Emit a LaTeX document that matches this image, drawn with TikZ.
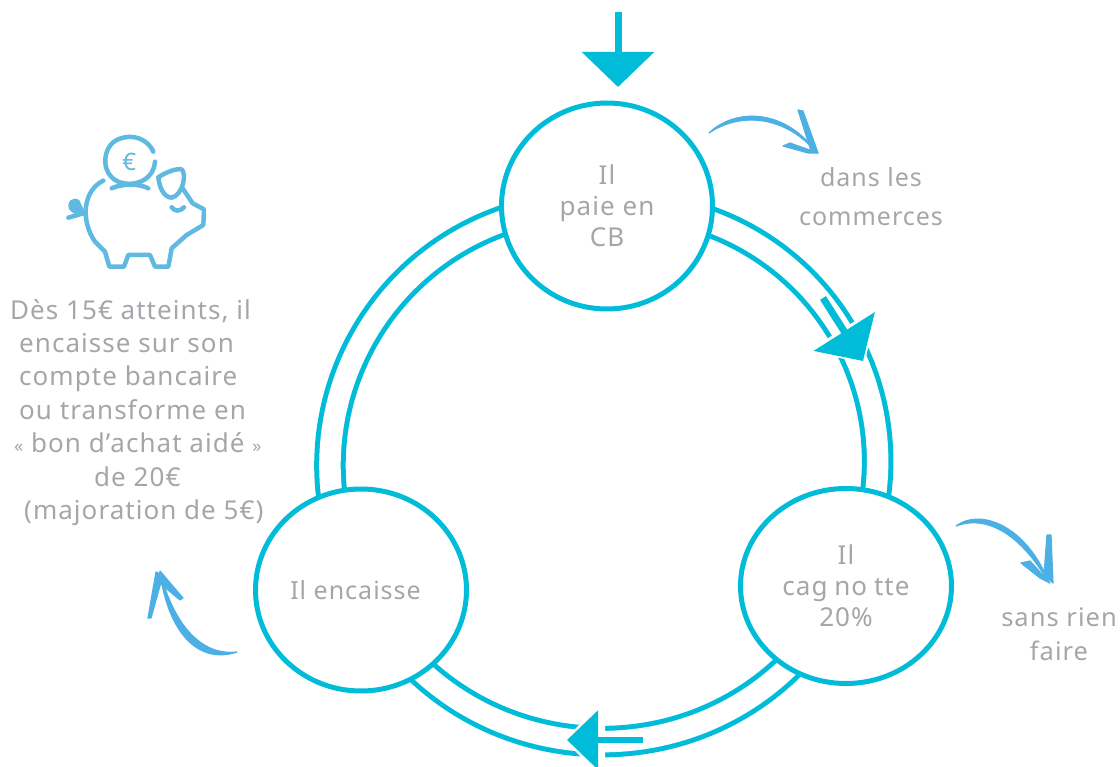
\documentclass[tikz,border=0pt]{standalone}
\usepackage{fontspec}
\setmainfont[LetterSpace=4]{Noto Sans}
\usetikzlibrary{arrows.meta,backgrounds,shapes.geometric}
\definecolor{turquoise}{HTML}{00BCD8}
\definecolor{gristexte}{HTML}{A4A6AA}
\definecolor{bleucochon}{HTML}{5FB9E1}
\definecolor{bleucroquis}{HTML}{4DB0E4}
\tikzset{
  etape/.style={ellipse,draw=turquoise,line width=5pt,fill=white,text=gristexte,align=center,inner sep=0pt,outer sep=0pt,font=\fontsize{26}{31}\selectfont},
  texte/.style={text=gristexte,align=center,inner sep=0pt,font=\fontsize{25.5}{34}\selectfont},
  anneau/.style={draw=turquoise,line width=5pt,double=white,double distance=21.5pt},
  fleche/.style={draw=turquoise,line width=7pt,-{Triangle[width=71pt,length=35pt,fill=turquoise]}},
  croquis/.style={fill=bleucroquis,draw=bleucroquis,line width=1.2pt,line cap=round,line join=round},
  cochon/.style={draw=bleucochon,line width=4.5pt,line cap=round,line join=round}
}
\begin{document}
\begin{tikzpicture}[x=1pt,y=-1pt]
  \useasboundingbox (0,0) rectangle (1120,767);

  \begin{scope}[every node/.style={etape}]
    \node[minimum width=211pt,minimum height=206pt] (paie) at (607,206) {Il\\paie en\\CB};
    \node[minimum width=211pt,minimum height=195pt] (cagnotte) at (846,586) {Il\\cag\hspace{-1pt} no\hspace{-1pt} tte\\20\%};
    \node[minimum width=211pt,minimum height=202pt,font=\fontsize{25}{31}\selectfont] (encaisse) at (361,590) {Il encaisse\hspace{11pt}};
  \end{scope}

  \begin{scope}[on background layer]
    \path (paie.center) edge[anneau,bend left=60,looseness=1.16] (cagnotte.center);
    \path (cagnotte.center) edge[anneau,bend left=64,looseness=1.2] (encaisse.center);
    \path (encaisse.center) edge[anneau,bend left=60,looseness=1.16] (paie.center);
  \end{scope}

  \coordinate (entree) at (618,12);
  \coordinate (entreefin) at (618,87);
  \coordinate (droitedebut) at (823,298);
  \coordinate (droitefin) at (863,361);
  \coordinate (basdebut) at (643,740);
  \coordinate (basfin) at (567,740);

  \draw[fleche] (entree) -- (entreefin);
  \draw[white,line width=9pt,-{Triangle[width=80pt,length=41pt,fill=white]},shorten >=-3pt] (droitedebut) -- (droitefin);
  \draw[fleche] (droitedebut) -- (droitefin);
  \draw[white,line width=10pt,-{Triangle[width=80pt,length=41pt,fill=white]},shorten >=-3pt] (basdebut) -- (basfin);
  \draw[fleche,line width=6pt,-{Triangle[width=58pt,length=31pt,fill=turquoise]}] (basdebut) -- (basfin);

  \node[texte,font=\fontsize{25}{39}\selectfont] (commerces) at (871,197) {dans les\\commerces};
  \node[texte] (sansrien) at (1059,634) {sans rien\\faire};
  \node[texte,align=left,anchor=north west,font=\fontsize{26}{33.4}\selectfont] (explication) at (10,299) {D\`es 15\texteuro{} atteints, il\\
    \hspace*{9pt}encaisse sur son\\
    \hspace*{9pt}compte bancaire\\
    \hspace*{9pt}ou transforme en\\
    \hspace*{4pt}{\fontsize{18}{18}\selectfont «} bon d\textquoteright achat aid\'e {\fontsize{18}{18}\selectfont »}\\
    \hspace*{84pt}de 20\texteuro\\
    \hspace*{14pt}(majoration de 5\texteuro)};

  % fleches dessinees a la main
  \filldraw[croquis] (709,133) .. controls (735,108) and (785,108) .. (817,153) .. controls (785,115) and (740,112) .. (709,133);
  \filldraw[croquis] (798,110) -- (803,111) -- (818,153) -- (811,151) -- cycle;
  \filldraw[croquis] (783,146) -- (790,143) -- (818,153) -- (808,153) -- cycle;
  \filldraw[croquis] (956,526) .. controls (982,507) and (1028,528) .. (1049,583) .. controls (1022,536) and (988,514) .. (956,526);
  \filldraw[croquis] (1047,535) -- (1051,535) -- (1053,583) -- (1044,575) -- cycle;
  \filldraw[croquis] (1021,563) -- (1030,561) -- (1050,583) -- (1040,578) -- cycle;
  \filldraw[croquis] (237,652) .. controls (198,665) and (168,632) .. (160,572) .. controls (175,628) and (203,656) .. (237,652);
  \filldraw[croquis] (148,618) -- (151,618) -- (163,575) -- (156,572) -- cycle;
  \filldraw[croquis] (183,598) -- (180,600) -- (162,585) -- (160,571) -- cycle;

  % tirelire
  \begin{scope}[shift={(40,120)},scale=1/3]
    \draw[cochon] (345,125) .. controls (340,190) and (265,205) .. (225,180) .. controls (180,150) and (190,75) .. (235,58) .. controls (280,38) and (325,60) .. (340,95);
    \draw[cochon] (215,205) .. controls (250,190) and (295,190) .. (325,205);
    \draw[cochon] (190,182) .. controls (130,210) and (120,300) .. (165,365) -- (195,395) -- (208,440) -- (252,440) -- (265,405) -- (330,405) -- (345,440) -- (385,440) -- (395,385) -- (440,345) -- (490,315) -- (492,268) -- (458,250) -- (428,205);
    \draw[cochon] (355,172) .. controls (380,155) and (410,145) .. (425,148) .. controls (440,160) and (430,225) .. (395,233) .. controls (370,232) and (358,200) .. (355,172);
    \draw[cochon] (395,262) .. controls (405,275) and (420,275) .. (432,262);
    \draw[cochon] (130,280) -- (85,293);
    \fill[bleucochon] (135,275) .. controls (110,290) and (85,280) .. (85,255) .. controls (88,230) and (120,230) .. (122,250) -- cycle;
    \node[text=bleucochon,inner sep=0pt,font=\fontsize{24}{24}\selectfont] (euro) at (268,125) {\texteuro};
  \end{scope}
\end{tikzpicture}
\end{document}
